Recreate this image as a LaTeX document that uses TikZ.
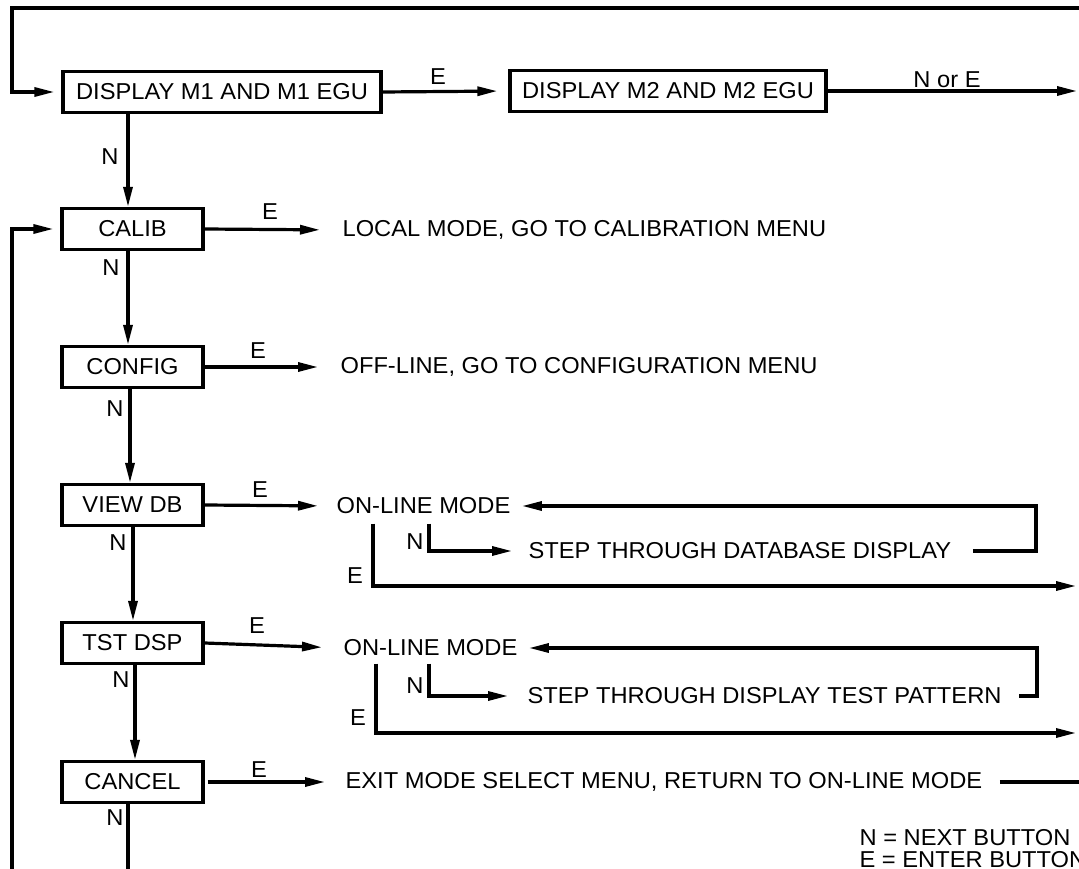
\documentclass[tikz,border=0pt]{standalone}
\usepackage{fontspec}
\setmainfont[FakeStretch=1.03]{Liberation Sans}
\usetikzlibrary{arrows.meta,calc}
\begin{document}
\begin{tikzpicture}[x=1pt,y=-1pt, line width=3.2pt,
  every node/.style={font=\fontsize{23}{25}\selectfont},
  box/.style={draw, line width=3.2pt, minimum height=41pt, inner sep=0pt},
  cbox/.style={box, minimum width=141pt},
  txt/.style={inner sep=0pt, anchor=west},
  lbl/.style={inner sep=0pt},
  arr/.style={-{Triangle[length=20pt,width=9pt]}}]
\useasboundingbox (0,0) rectangle (1079,869);

% boxes
\node[box, minimum width=318pt] (b1) at (222,92) {DISPLAY M1 AND M1 EGU};
\node[box, minimum width=316pt] (b2) at (668,91) {DISPLAY M2 AND M2 EGU};
\node[cbox] (calib) at (132.5,229) {CALIB};
\node[cbox] (config) at (132.5,367) {CONFIG};
\node[cbox] (viewdb) at (132.5,505) {VIEW DB};
\node[cbox] (tst) at (132.5,643) {TST DSP};
\node[cbox] (cancel) at (132.5,782) {CANCEL};

% texts
\node[txt] (local) at (341,230) {LOCAL MODE, GO TO CALIBRATION MENU};
\node[txt] (offline) at (339,367) {OFF-LINE, GO TO CONFIGURATION MENU};
\node[txt] (on1) at (335,506) {ON-LINE MODE};
\node[txt] (st1) at (527,551) {STEP THROUGH DATABASE DISPLAY};
\node[txt] (on2) at (342,648) {ON-LINE MODE};
\node[txt] (st2) at (526,696) {STEP THROUGH DISPLAY TEST PATTERN};
\node[txt] (exit) at (344,782) {EXIT MODE SELECT MENU, RETURN TO ON-LINE MODE};
\node[txt] (leg1) at (858,838) {N = NEXT BUTTON};
\node[txt] (leg2) at (858,860) {E = ENTER BUTTON};

% labels
\node[lbl] (le0) at (438,77) {E};
\node[lbl] (lnore) at (947,80) {N or E};
\node[lbl] (ln0) at (110,157) {N};
\node[lbl] (ln1) at (111,268) {N};
\node[lbl] (ln2) at (115,409) {N};
\node[lbl] (ln3) at (118,543) {N};
\node[lbl] (ln4) at (121,680) {N};
\node[lbl] (ln5) at (115,818) {N};
\node[lbl] (le1) at (270,212) {E};
\node[lbl] (le2) at (258,351) {E};
\node[lbl] (le3) at (260,490) {E};
\node[lbl] (le4) at (257,626) {E};
\node[lbl] (le5) at (259,770) {E};
\node[lbl] (ln6) at (415,542) {N};
\node[lbl] (le6) at (355,576) {E};
\node[lbl] (ln7) at (415,686) {N};
\node[lbl] (le7) at (358,718) {E};

% coordinates
\coordinate (topR) at (1079,8);
\coordinate (topL) at (12,8);
\coordinate (r0) at (1079,91);
\coordinate (lb) at (12,869);
\coordinate (cb) at (128,869);
\coordinate (fb1) at (1036,530);
\coordinate (fb2) at (1037,670);
\coordinate (ex1) at (1079,586);
\coordinate (ex2) at (1079,733);
\coordinate (ex3) at (1079,784);
\coordinate (v0) at ([xshift=-4.5pt]calib.north);
\coordinate (v1) at ([xshift=-4.5pt]config.north);
\coordinate (v2) at ([xshift=-2.5pt]viewdb.north);
\coordinate (v3) at ([xshift=0.5pt]tst.north);
\coordinate (v4) at ([xshift=2.5pt]cancel.north);

% top row
\draw[arr, shorten >=7pt] (topR) -- (topL) |- (b1.west);
\draw[arr, shorten >=11pt] (b1.east) -- (b2.west);
\draw[arr, shorten >=2pt] (b2.east) -- (r0);

% column
\draw[arr] (v0 |- b1.south) -- (v0);
\draw[arr] (v1 |- calib.south) -- (v1);
\draw[arr] (v2 |- config.south) -- (v2);
\draw[arr] (v3 |- viewdb.south) -- (v3);
\draw[arr] (v4 |- tst.south) -- (v4);
\draw (cb |- cancel.south) -- (cb);
\draw[arr, shorten >=7pt] (lb) |- (calib.west);

% E arrows
\draw[arr, shorten >=21pt] (calib.east) -- (local.west);
\draw[arr, shorten >=21pt] (config.east) -- (offline.west);
\draw[arr, shorten >=17pt] (viewdb.east) -- (on1.west);
\draw[arr, shorten >=20pt] (tst.east) -- (on2.west);
\draw[arr, shorten >=19pt] ([xshift=3pt]cancel.east) -- (exit.west);

% group 1
\draw[arr, shorten >=10pt] ([xshift=20pt]st1.east) -| (fb1) |- (on1.east);
\draw[arr, shorten >=15pt] ([xshift=94pt,yshift=-8pt]on1.south west) |- (st1.west);
\draw[arr, shorten >=3pt] ([xshift=38pt,yshift=-8pt]on1.south west) |- (ex1);

% group 2
\draw[arr, shorten >=10pt] ([xshift=16pt]st2.east) -| (fb2) |- (on2.east);
\draw[arr, shorten >=18pt] ([xshift=87pt,yshift=-6pt]on2.south west) |- (st2.west);
\draw[arr, shorten >=3pt] ([xshift=34pt,yshift=-6pt]on2.south west) |- (ex2);

% cancel exit
\draw ([xshift=16pt]exit.east) -- (exit.east -| ex3);
\end{tikzpicture}
\end{document}
